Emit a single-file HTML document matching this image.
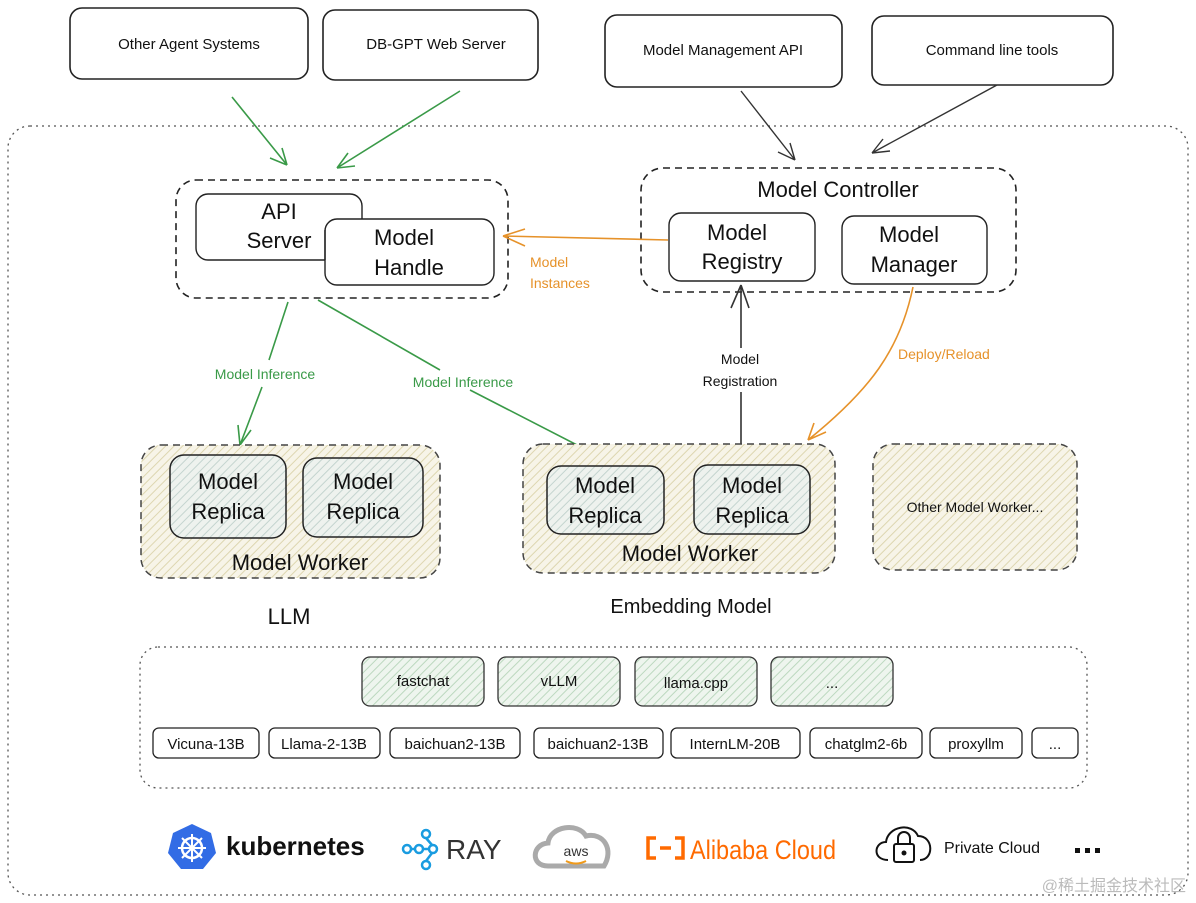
<!DOCTYPE html>
<html><head><meta charset="utf-8"><style>
html,body{margin:0;padding:0;background:#fff}
svg{display:block}
text{font-family:"Liberation Sans","Noto Sans CJK SC",sans-serif}
</style></head><body>
<svg width="1196" height="903" viewBox="0 0 1196 903" xmlns="http://www.w3.org/2000/svg">
<defs>
<pattern id="hb" width="6" height="6" patternUnits="userSpaceOnUse" patternTransform="rotate(45)">
<rect width="6" height="6" fill="#f7f4e8"/><line x1="0" y1="0" x2="0" y2="6" stroke="#ddd6b0" stroke-width="2"/></pattern>
<pattern id="hg" width="6" height="6" patternUnits="userSpaceOnUse" patternTransform="rotate(45)">
<rect width="6" height="6" fill="#eef2ee"/><line x1="0" y1="0" x2="0" y2="6" stroke="#c4d4cf" stroke-width="2"/></pattern>
<pattern id="hgr" width="6" height="6" patternUnits="userSpaceOnUse" patternTransform="rotate(45)">
<rect width="6" height="6" fill="#eef5ee"/><line x1="0" y1="0" x2="0" y2="6" stroke="#bcd8bf" stroke-width="2"/></pattern>
</defs>

<!-- outer -->
<rect x="8" y="126" width="1180" height="769" rx="22" fill="none" stroke="#555" stroke-width="1.3" stroke-dasharray="2 4"/>

<g fill="#fff" stroke="#222" stroke-width="1.6">
<rect x="70" y="8" width="238" height="71" rx="12"/>
<rect x="323" y="10" width="215" height="70" rx="12"/>
<rect x="605" y="15" width="237" height="72" rx="12"/>
<rect x="872" y="16" width="241" height="69" rx="12"/>
</g>
<g font-size="15" fill="#111" text-anchor="middle">
<text x="189" y="49">Other Agent Systems</text>
<text x="436" y="49">DB-GPT Web Server</text>
<text x="723" y="55">Model Management API</text>
<text x="992" y="55">Command line tools</text>
</g>

<!-- arrows top -->
<g stroke="#3a9a48" stroke-width="1.6" fill="none">
<path d="M232 97 L287 165 M287 165 L270 158 M287 165 L282 148"/>
<path d="M460 91 L337 168 M337 168 L348 153 M337 168 L355 166"/>
</g>
<g stroke="#333" stroke-width="1.4" fill="none">
<path d="M741 91 L795 160 M795 160 L778 152 M795 160 L790 143"/>
<path d="M997 85 L872 153 M872 153 L883 139 M872 153 L890 151"/>
</g>

<!-- API group -->
<rect x="176" y="180" width="332" height="118" rx="20" fill="none" stroke="#222" stroke-width="1.6" stroke-dasharray="7 5"/>
<rect x="196" y="194" width="166" height="66" rx="12" fill="#fff" stroke="#222" stroke-width="1.4"/>
<rect x="325" y="219" width="169" height="66" rx="12" fill="#fff" stroke="#222" stroke-width="1.4"/>
<path d="M325 230 L325 260" stroke="#222" stroke-width="1.4"/>
<g font-size="22" fill="#111" text-anchor="middle">
<text x="279" y="219">API</text><text x="279" y="248">Server</text>
<text x="404" y="245">Model</text><text x="409" y="275">Handle</text>
</g>

<!-- controller -->
<rect x="641" y="168" width="375" height="124" rx="22" fill="none" stroke="#222" stroke-width="1.6" stroke-dasharray="7 5"/>
<rect x="669" y="213" width="146" height="68" rx="12" fill="#fff" stroke="#222" stroke-width="1.4"/>
<rect x="842" y="216" width="145" height="68" rx="12" fill="#fff" stroke="#222" stroke-width="1.4"/>
<g font-size="22" fill="#111" text-anchor="middle">
<text x="838" y="197">Model Controller</text>
<text x="737" y="240">Model</text><text x="742" y="269">Registry</text>
<text x="909" y="242">Model</text><text x="914" y="272">Manager</text>
</g>

<!-- orange arrows -->
<g stroke="#e6922a" stroke-width="1.6" fill="none">
<path d="M668 240 L503 236 M503 236 L525 229 M503 236 L525 246"/>
<path d="M913 287 C900 350 870 390 808 440 M808 440 L814 423 M808 440 L826 432"/>
</g>
<g font-size="14" fill="#e6922a">
<text x="530" y="267">Model</text><text x="530" y="288">Instances</text>
<text x="898" y="359">Deploy/Reload</text>
</g>

<!-- registration -->
<g stroke="#333" stroke-width="1.6" fill="none">
<path d="M741 455 L741 392 M741 348 L741 285 M741 285 L731 308 M741 285 L749 308"/>
</g>
<g font-size="14" fill="#111" text-anchor="middle">
<text x="740" y="364">Model</text><text x="740" y="386">Registration</text>
</g>

<!-- inference arrows -->
<g stroke="#3a9a48" stroke-width="1.6" fill="none">
<path d="M288 302 L269 360 M262 387 L240 445 M240 445 L238 425 M240 445 L251 430"/>
<path d="M318 300 L440 370 M470 390 L614 464 M614 464 L595 463 M614 464 L603 449"/>
</g>
<g font-size="14" fill="#3a9a48" text-anchor="middle">
<text x="265" y="379">Model Inference</text>
<text x="463" y="387">Model Inference</text>
</g>

<!-- workers -->
<g stroke="#444" stroke-width="1.5" stroke-dasharray="7 5">
<rect x="141" y="445" width="299" height="133" rx="20" fill="url(#hb)"/>
<rect x="523" y="444" width="312" height="129" rx="20" fill="url(#hb)"/>
<rect x="873" y="444" width="204" height="126" rx="20" fill="url(#hb)"/>
</g>
<g stroke="#222" stroke-width="1.5" fill="url(#hg)">
<rect x="170" y="455" width="116" height="83" rx="14"/>
<rect x="303" y="458" width="120" height="79" rx="14"/>
<rect x="547" y="466" width="117" height="68" rx="14"/>
<rect x="694" y="465" width="116" height="69" rx="14"/>
</g>
<g font-size="22" fill="#111" text-anchor="middle">
<text x="228" y="489">Model</text><text x="228" y="519">Replica</text>
<text x="363" y="489">Model</text><text x="363" y="519">Replica</text>
<text x="605" y="493">Model</text><text x="605" y="523">Replica</text>
<text x="752" y="493">Model</text><text x="752" y="523">Replica</text>
<text x="300" y="570">Model Worker</text>
<text x="690" y="561">Model Worker</text>
<text x="289" y="624">LLM</text>
<text x="691" y="613" font-size="20">Embedding Model</text>
</g>
<text x="975" y="512" font-size="14" fill="#111" text-anchor="middle">Other Model Worker...</text>

<!-- bottom group -->
<rect x="140" y="647" width="947" height="141" rx="18" fill="none" stroke="#555" stroke-width="1.3" stroke-dasharray="2 4"/>
<g stroke="#333" stroke-width="1.3" fill="url(#hgr)">
<rect x="362" y="657" width="122" height="49" rx="8"/>
<rect x="498" y="657" width="122" height="49" rx="8"/>
<rect x="635" y="657" width="122" height="49" rx="8"/>
<rect x="771" y="657" width="122" height="49" rx="8"/>
</g>
<g font-size="15" fill="#111" text-anchor="middle">
<text x="423" y="686">fastchat</text><text x="559" y="686">vLLM</text>
<text x="696" y="688">llama.cpp</text><text x="832" y="688">...</text>
</g>
<g stroke="#222" stroke-width="1.3" fill="#fff">
<rect x="153" y="728" width="106" height="30" rx="6"/>
<rect x="269" y="728" width="111" height="30" rx="6"/>
<rect x="390" y="728" width="130" height="30" rx="6"/>
<rect x="534" y="728" width="129" height="30" rx="6"/>
<rect x="671" y="728" width="129" height="30" rx="6"/>
<rect x="810" y="728" width="112" height="30" rx="6"/>
<rect x="930" y="728" width="92" height="30" rx="6"/>
<rect x="1032" y="728" width="46" height="30" rx="6"/>
</g>
<g font-size="15" fill="#111" text-anchor="middle">
<text x="206" y="749">Vicuna-13B</text><text x="324" y="749">Llama-2-13B</text>
<text x="455" y="749">baichuan2-13B</text><text x="598" y="749">baichuan2-13B</text>
<text x="735" y="749">InternLM-20B</text><text x="866" y="749">chatglm2-6b</text>
<text x="976" y="749">proxyllm</text><text x="1055" y="749">...</text>
</g>

<!-- logos -->
<polygon points="192,824 211,833 216,853 203,869 181,869 168,853 173,833" fill="#326ce5"/>
<circle cx="192" cy="848" r="10" fill="none" stroke="#fff" stroke-width="2.5"/>
<g stroke="#fff" stroke-width="2"><path d="M192 834 V862 M178 848 H206 M182 838 L202 858 M202 838 L182 858"/></g>
<text x="226" y="855" font-size="26" font-weight="bold" fill="#111">kubernetes</text>
<g stroke="#1a9ce0" stroke-width="2.5" fill="none">
<circle cx="426" cy="834" r="4"/><circle cx="407" cy="849" r="4"/><circle cx="419" cy="849" r="4"/><circle cx="433" cy="849" r="4"/><circle cx="426" cy="865" r="4"/>
<path d="M411 849 H415 M423 849 H429 M426 838 L432 845 M432 853 L426 861"/>
</g>
<text x="446" y="859" font-size="28" fill="#333">RAY</text>
<path d="M548 866 C530 866 532 844 548 843 C550 826 578 822 586 836 C604 832 614 850 604 866 Z" fill="#fff" stroke="#aaa" stroke-width="5"/>
<text x="576" y="856" font-size="14" fill="#333" text-anchor="middle">aws</text>
<path d="M566 861 Q576 866 586 861" stroke="#f09a1a" stroke-width="2" fill="none"/>
<g stroke="#ff6a00" stroke-width="3.5" fill="none"><path d="M656 838 H648 V858 H656 M675 838 H683 V858 H675 M660 848 H671"/></g>
<text x="690" y="859" font-size="27" fill="#ff6a00" textLength="146" lengthAdjust="spacingAndGlyphs">Alibaba Cloud</text>
<path d="M888 860 C872 860 874 842 886 842 C888 826 912 822 918 836 C934 836 934 860 920 860" fill="none" stroke="#111" stroke-width="2"/>
<rect x="894" y="844" width="20" height="18" rx="2" fill="#fff" stroke="#111" stroke-width="2"/>
<path d="M898 844 V838 A6 6 0 0 1 910 838 V844" fill="none" stroke="#111" stroke-width="2"/>
<circle cx="904" cy="853" r="2.5" fill="#111"/>
<text x="944" y="853" font-size="16" fill="#111">Private Cloud</text>
<g fill="#111"><rect x="1075" y="848" width="5" height="5"/><rect x="1085" y="848" width="5" height="5"/><rect x="1095" y="848" width="5" height="5"/></g>
<text x="1186" y="891" font-size="16" fill="#bbb" text-anchor="end">@稀土掘金技术社区</text>
</svg>
</body></html>
